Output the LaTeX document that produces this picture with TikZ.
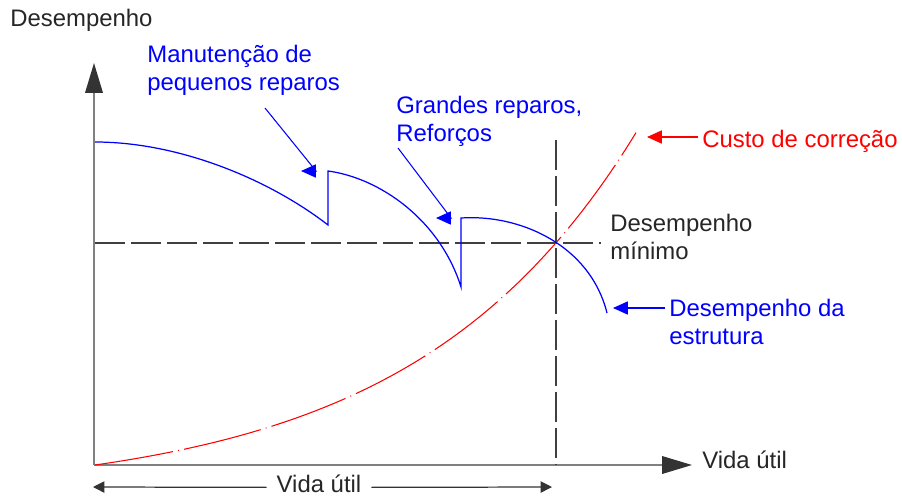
\documentclass[tikz,border=0pt]{standalone}
\usepackage{fontspec}
\setmainfont{Liberation Sans}
\usetikzlibrary{arrows.meta}

\begin{document}
\begin{tikzpicture}[x=0.02cm,y=-0.02cm,
  every node/.style={inner sep=0pt,font=\fontsize{13.6}{15.9}\selectfont,align=left},
  axis/.style={draw=gray,line width=0.9pt,-{Triangle[length=17pt,width=10pt,color=black!80]}},
  guide/.style={draw=black!75,line width=0.7pt,dash pattern=on 17pt off 3.5pt},
  dim/.style={draw=black!80,line width=0.7pt,-{Triangle[length=6.5pt,width=6.5pt]}},
  leader/.style={line width=0.6pt,-{Triangle[length=8.5pt,width=7.5pt]}},
  perf/.style={blue,line width=0.7pt},
  cost/.style={red,line width=0.6pt,dash pattern=on 45pt off 3pt on 0.5pt off 3pt}]
  \useasboundingbox (0,0) rectangle (902,497);
  % axes
  \coordinate (o) at (94,465);
  \coordinate (ytip) at (94,63);
  \coordinate (xtip) at (692,465);
  \draw[axis] (o) -- (ytip);
  \draw[axis] (o) -- (xtip);
  \node[anchor=base west,black!85] (ylab) at (10,27) {Desempenho};
  \node[anchor=base west,black!85] (xlab) at (702,468) {Vida útil};
  % guides
  \coordinate (h0) at (95,243);
  \coordinate (h1) at (601,243);
  \coordinate (v0) at (556,140);
  \coordinate (v1) at (556,465);
  \draw[guide] (h0) -- (h1);
  \draw[guide] (v0) -- (v1);
  % curves
  \draw[cost] plot[domain=95:636,samples=60] (\x,{465-31.9*(exp(0.0045*(\x-95))-1)});
  \draw[perf] (95,142) .. controls (180,142) and (270,180) .. (328,225) -- (328,171)
    .. controls (380,178) and (440,220) .. (461,287) -- (461,218)
    .. controls (520,214) and (590,245) .. (607,313);
  % labels (base = last line)
  \node[anchor=base west,blue] (maint) at (147,90) {Manutenção de\\pequenos reparos};
  \node[anchor=base west,blue] (major) at (396,141) {Grandes reparos,\\Reforços};
  \node[anchor=base west,red] (costlab) at (702,147) {Custo de correção};
  \node[anchor=base west,black!85] (minlab) at (610,259) {Desempenho\\mínimo};
  \node[anchor=base west,blue] (struct) at (669,344) {Desempenho da\\estrutura};
  % leaders
  \coordinate (m0) at (265,108);
  \coordinate (m1) at (316,171);
  \coordinate (m2) at (301,171);
  \coordinate (g0) at (398,148);
  \coordinate (g1) at (451,218);
  \coordinate (g2) at (436,218);
  \coordinate (c0) at (698,137);
  \coordinate (c1) at (647,137);
  \coordinate (s0) at (665,308);
  \coordinate (s1) at (613,308);
  \draw[leader,blue] (m0) -- (m1) -- (m2);
  \draw[leader,blue] (g0) -- (g1) -- (g2);
  \draw[leader,red] (c0) -- (c1);
  \draw[leader,blue] (s0) -- (s1);
  % service life
  \node[anchor=base,black!85,inner xsep=5.5pt] (life) at (319,492) {Vida útil};
  \coordinate (l0) at (93,487);
  \coordinate (l1) at (552,487);
  \draw[dim] (life.mid west) -- (l0);
  \draw[dim] (life.mid east) -- (l1);
\end{tikzpicture}
\end{document}
